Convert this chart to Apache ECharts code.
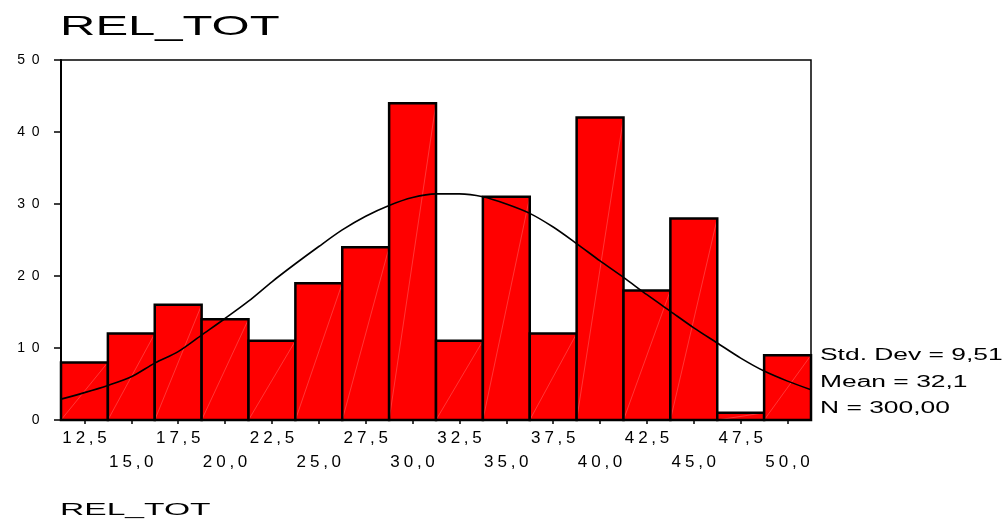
<!DOCTYPE html>
<html>
<head>
<meta charset="utf-8">
<script src="https://cdn.jsdelivr.net/npm/echarts@6/dist/echarts.min.js"></script>
<style>
  html, body { margin: 0; padding: 0; background: #fff; }
  #chart { width: 1007px; height: 523px; }
</style>
</head>
<body>
<div id="chart"></div>
<script>
// Histogram of REL_TOT: bin centres and frequencies
const binCenters = [12.5, 15, 17.5, 20, 22.5, 25, 27.5, 30, 32.5, 35, 37.5, 40, 42.5, 45, 47.5, 50];
const binCounts  = [8, 12, 16, 14, 11, 19, 24, 44, 11, 31, 12, 42, 18, 28, 1, 9];
const binWidth = 2.5;

// X tick labels (decimal comma), one per bin centre
const xTickLabels = ['12,5', '15,0', '17,5', '20,0', '22,5', '25,0', '27,5', '30,0',
                     '32,5', '35,0', '37,5', '40,0', '42,5', '45,0', '47,5', '50,0'];
const yTickValues = [0, 10, 20, 30, 40, 50];

// Fitted normal curve, sampled points
const curveX = [11.25, 12.5, 13.75, 15, 16.25, 17.5, 18.75, 20, 21.25, 22.5, 23.75, 25, 26.25,
                27.5, 28.75, 30, 31.25, 32.5, 33.75, 35, 36.25, 37.5, 38.75, 40, 41.25, 42.5,
                43.75, 45, 46.25, 47.5, 48.75, 50, 51.25];
const curveY = [2.9, 3.8, 4.8, 6.0, 7.9, 9.5, 11.8, 14.1, 16.5, 19.2, 21.7, 24.1, 26.4,
                28.3, 29.8, 30.9, 31.4, 31.4, 31.0, 30.0, 28.7, 26.8, 24.5, 22.1, 19.8, 17.4,
                15.1, 12.8, 10.7, 8.6, 6.8, 5.4, 4.2];

const titleText = 'REL_TOT';
const axisName = 'REL_TOT';
const statLines = ['Std. Dev = 9,51', 'Mean = 32,1', 'N = 300,00'];

const FONT = 'Liberation Sans, Arial, sans-serif';

// Wrap each character in a fixed-width rich box so the labels get a wide set
function spread(str) {
  return str.split('').map(ch => (ch === ',' ? '{c|,}' : '{d|' + ch + '}')).join('');
}
function labelFor(v) {
  return spread(xTickLabels[binCenters.indexOf(v)]);
}

// Labels alternate between two rows under the axis
const rowOneValues = binCenters.filter((_, i) => i % 2 === 0);
const rowTwoValues = binCenters.filter((_, i) => i % 2 === 1);

const xRich = {
  d: { width: 13.5, align: 'center', fontSize: 17, fontFamily: FONT, color: '#000' },
  c: { width: 8, align: 'center', fontSize: 17, fontFamily: FONT, color: '#000' }
};

const barData = binCenters.map((c, i) => [c - binWidth / 2, c + binWidth / 2, binCounts[i]]);
const curveData = curveX.map((x, i) => [x, curveY[i]]);

const chart = echarts.init(document.getElementById('chart'), null, { renderer: 'canvas' });

chart.setOption({
  animation: false,
  backgroundColor: '#fff',
  grid: {
    left: 61, right: 196, top: 60, bottom: 103,
    show: true, borderColor: '#000', borderWidth: 1.5, backgroundColor: 'transparent'
  },
  xAxis: [
    {
      type: 'value',
      position: 'bottom',
      min: 11.25,
      max: 51.25,
      axisLine: { show: true, onZero: false, lineStyle: { color: '#000', width: 2 } },
      axisTick: { show: true, customValues: binCenters, length: 4, lineStyle: { color: '#000', width: 1.5 } },
      axisLabel: {
        show: true,
        customValues: rowOneValues,
        showMinLabel: true,
        showMaxLabel: true,
        hideOverlap: false,
        margin: 10,
        color: '#000',
        fontFamily: FONT,
        fontSize: 17,
        formatter: labelFor,
        rich: xRich
      },
      splitLine: { show: false }
    },
    {
      type: 'value',
      position: 'bottom',
      offset: 0,
      min: 11.25,
      max: 51.25,
      axisLine: { show: false, onZero: false },
      axisTick: { show: false },
      axisLabel: {
        show: true,
        customValues: rowTwoValues,
        showMinLabel: true,
        showMaxLabel: true,
        hideOverlap: false,
        margin: 33.5,
        color: '#000',
        fontFamily: FONT,
        fontSize: 17,
        formatter: labelFor,
        rich: xRich
      },
      splitLine: { show: false }
    }
  ],
  yAxis: {
    type: 'value',
    min: 0,
    max: 50,
    interval: 10,
    axisLine: { show: true, lineStyle: { color: '#000', width: 2 } },
    axisTick: { show: true, length: 7, lineStyle: { color: '#000', width: 1.5 } },
    axisLabel: {
      margin: 18,
      showMinLabel: true,
      showMaxLabel: true,
      color: '#000',
      fontFamily: FONT,
      fontSize: 14,
      formatter: function (v) { return spread(String(v)); },
      rich: {
        d: { width: 14.5, align: 'center', fontSize: 14, fontFamily: FONT, color: '#000' },
        c: { width: 7, align: 'center', fontSize: 14, fontFamily: FONT, color: '#000' }
      }
    },
    splitLine: { show: false }
  },
  series: [
    {
      type: 'custom',
      name: 'bins',
      data: barData,
      xAxisIndex: 0,
      encode: { x: [0, 1], y: 2 },
      z: 2,
      renderItem: function (params, api) {
        const p0 = api.coord([api.value(0), 0]);
        const p1 = api.coord([api.value(1), api.value(2)]);
        const x = p0[0], y = p1[1], w = p1[0] - p0[0], h = p0[1] - p1[1];
        return {
          type: 'group',
          children: [
            { type: 'rect', shape: { x: x, y: y, width: w, height: h },
              style: { fill: '#ff0000', stroke: null } },
            { type: 'line', shape: { x1: p0[0], y1: p0[1], x2: p1[0], y2: p1[1] },
              style: { stroke: 'rgba(255,170,170,0.4)', lineWidth: 0.8 } },
            { type: 'rect', shape: { x: x, y: y, width: w, height: h },
              style: { fill: null, stroke: '#000', lineWidth: 2.5 } }
          ]
        };
      }
    },
    {
      type: 'line',
      name: 'normal',
      data: curveData,
      xAxisIndex: 0,
      showSymbol: false,
      smooth: 0.3,
      z: 5,
      lineStyle: { color: '#000', width: 1.6 }
    }
  ],
  graphic: [
    { type: 'text', x: 60, y: 27, scaleX: 1.75, z: 10,
      style: { text: titleText, fontSize: 28, fontFamily: FONT, fill: '#000',
               align: 'left', verticalAlign: 'middle', textAlign: 'left', textVerticalAlign: 'middle' } },
    { type: 'text', x: 60, y: 511, scaleX: 2.1, z: 10,
      style: { text: axisName, fontSize: 16, fontFamily: FONT, fill: '#000',
               align: 'left', verticalAlign: 'middle', textAlign: 'left', textVerticalAlign: 'middle' } }
  ].concat(statLines.map((t, i) => ({
    type: 'text', x: 820, y: 356 + i * 26.5, scaleX: 1.65, z: 10,
    style: { text: t, fontSize: 16, fontFamily: FONT, fill: '#000',
             align: 'left', verticalAlign: 'middle', textAlign: 'left', textVerticalAlign: 'middle' }
  })))
});
</script>
</body>
</html>
